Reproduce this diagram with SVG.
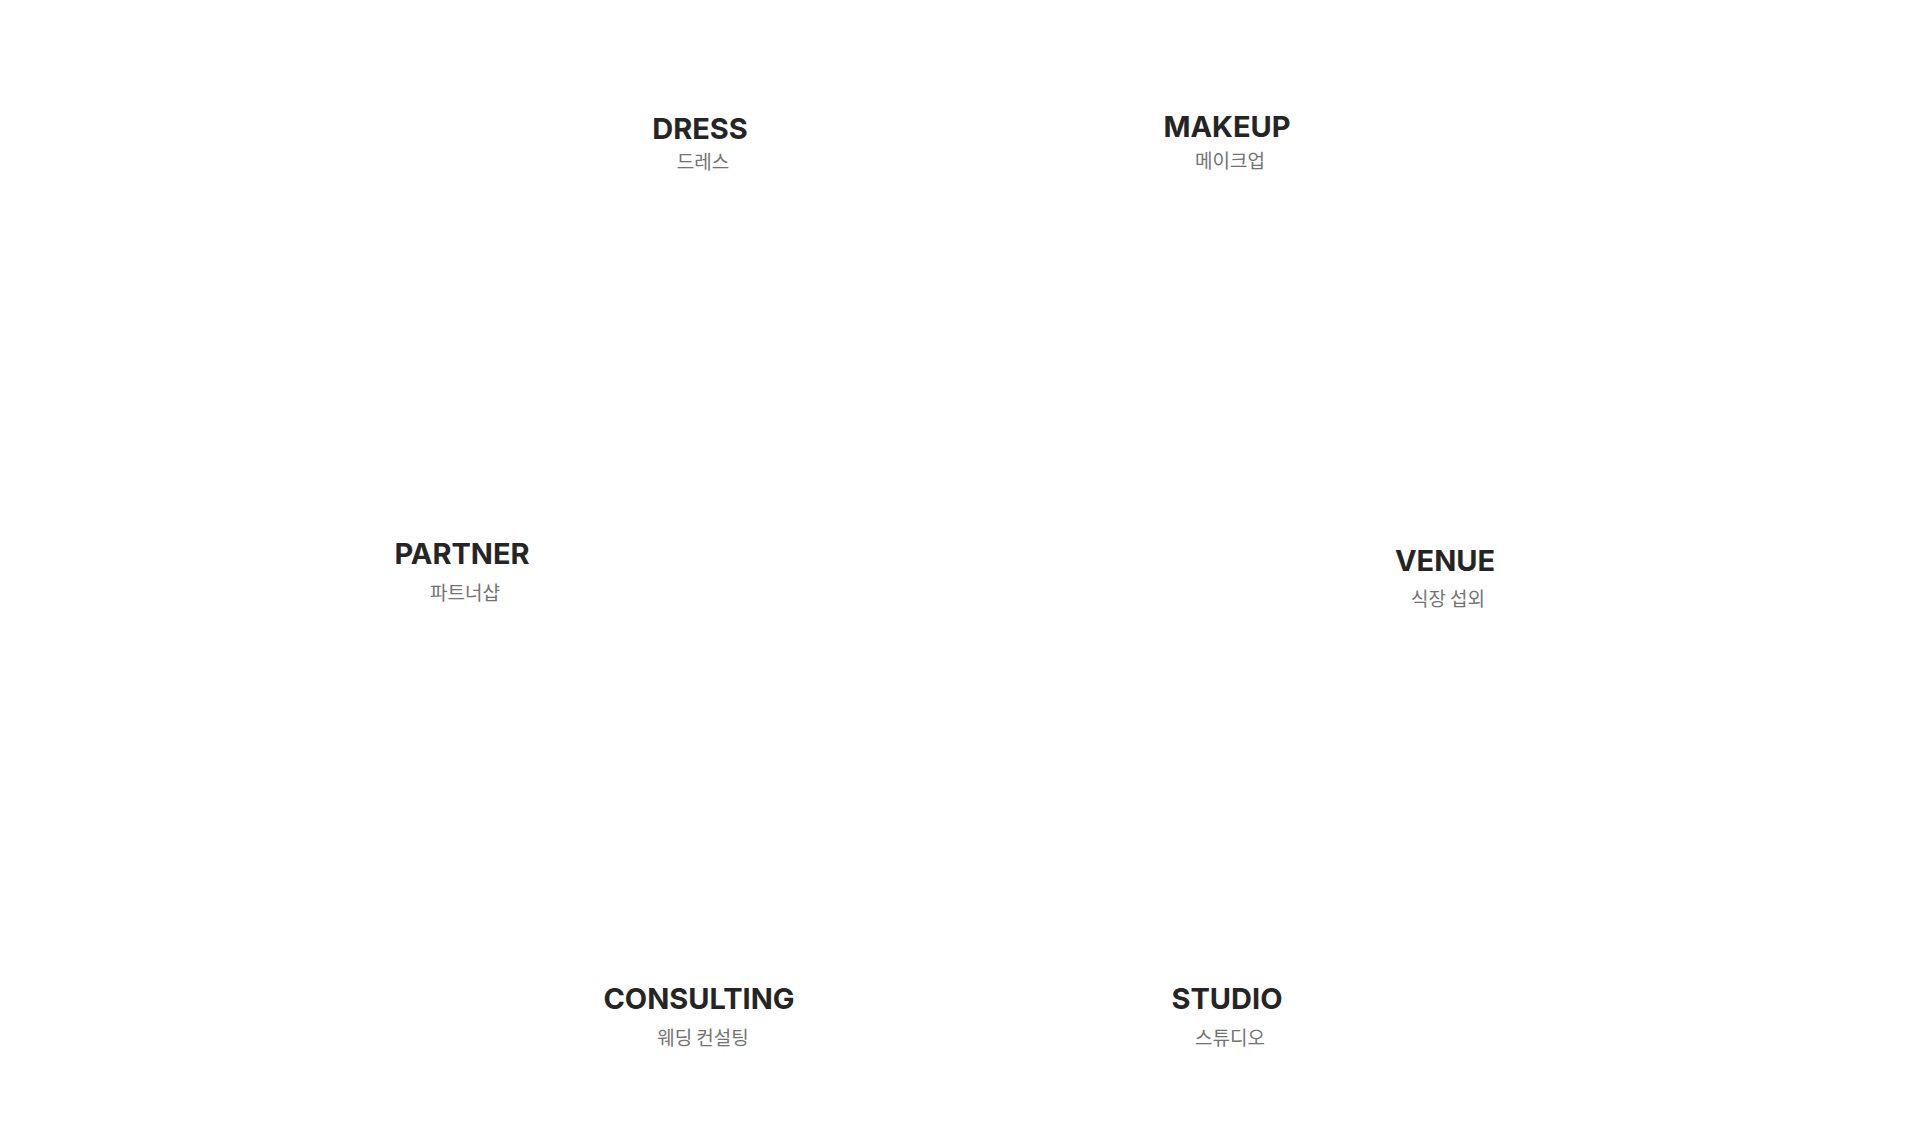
<svg xmlns="http://www.w3.org/2000/svg" width="1919" height="1140" viewBox="0 0 1919 1140">
<style>
.t{font-family:Inter,"Liberation Sans","Noto Sans CJK KR",sans-serif;font-weight:700;font-size:29px;fill:#252525;text-anchor:middle}
.s{font-family:"Noto Sans CJK KR","Noto Sans",sans-serif;font-weight:400;font-size:19px;fill:#737373;text-anchor:middle}
</style>
<rect x="0" y="0" width="1919" height="1140" fill="#ffffff"/>
<g id="connectors"/>
<g id="dress"><text class="t" x="700" y="139">DRESS</text><text class="s" x="703" y="169">드레스</text></g>
<g id="makeup"><text class="t" x="1227" y="137">MAKEUP</text><text class="s" x="1230" y="168">메이크업</text></g>
<g id="partner"><text class="t" x="462" y="564">PARTNER</text><text class="s" x="465" y="600">파트너샵</text></g>
<g id="venue"><text class="t" x="1445" y="571">VENUE</text><text class="s" x="1448" y="606">식장 섭외</text></g>
<g id="consulting"><text class="t" x="699" y="1009">CONSULTING</text><text class="s" x="703" y="1045">웨딩 컨설팅</text></g>
<g id="studio"><text class="t" x="1227" y="1009">STUDIO</text><text class="s" x="1230" y="1045">스튜디오</text></g>
</svg>
